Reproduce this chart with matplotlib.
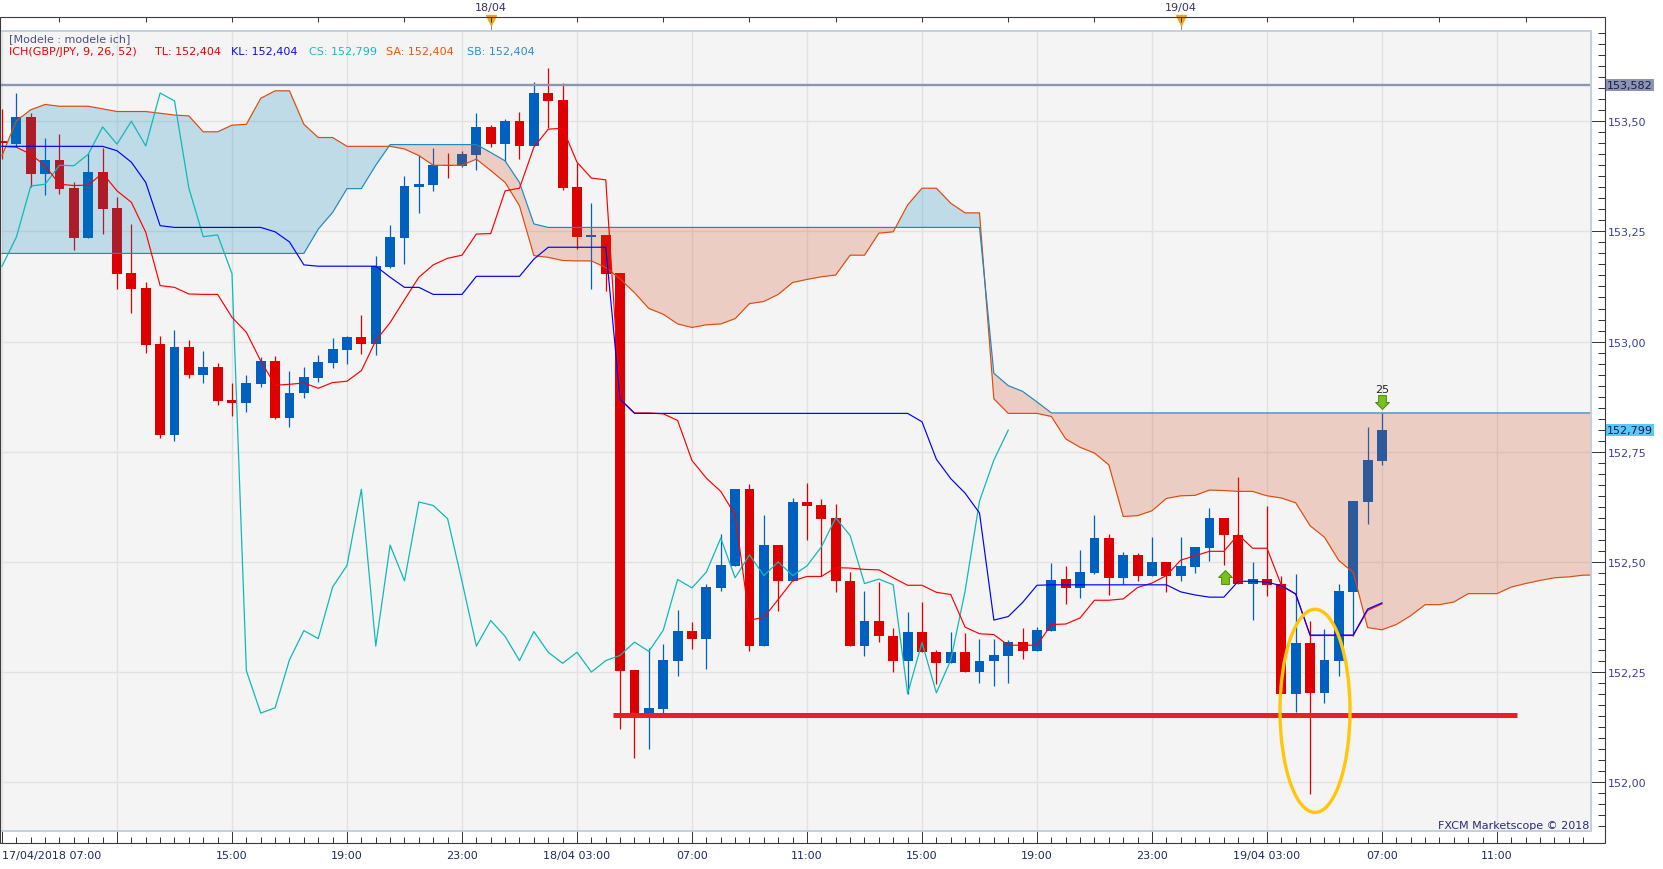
import matplotlib.pyplot as plt
import numpy as np
from matplotlib.patches import Ellipse, Rectangle
from matplotlib.path import Path
from matplotlib.ticker import MultipleLocator
from matplotlib.transforms import blended_transform_factory

plt.rcParams['font.family'] = 'DejaVu Sans'

# GBP/JPY 30 min candles, 17/04/2018 07:00 .. 19/04/2018 07:00
opens = [
    153.456, 153.449, 153.509, 153.381, 153.412, 153.348, 153.236, 153.385, 153.303, 153.155,
    153.121, 152.994, 152.789, 152.988, 152.925, 152.942, 152.868, 152.861, 152.904, 152.956,
    152.827, 152.883, 152.917, 152.952, 152.981, 153.010, 152.995, 153.170, 153.236, 153.351,
    153.356, 153.401, 153.399, 153.423, 153.487, 153.448, 153.500, 153.444, 153.564, 153.548,
    153.351, 153.238, 153.242, 153.155, 152.255, 152.157, 152.167, 152.276, 152.344, 152.326,
    152.441, 152.490, 152.665, 152.309, 152.538, 152.457, 152.636, 152.629, 152.599, 152.457,
    152.309, 152.367, 152.333, 152.276, 152.342, 152.296, 152.270, 152.295, 152.250, 152.275,
    152.286, 152.318, 152.297, 152.343, 152.461, 152.441, 152.475, 152.554, 152.464, 152.516,
    152.469, 152.500, 152.469, 152.489, 152.532, 152.600, 152.561, 152.451, 152.461, 152.450,
    152.201, 152.317, 152.203, 152.275, 152.432, 152.637, 152.730]
highs = [
    153.528, 153.564, 153.518, 153.462, 153.471, 153.361, 153.429, 153.439, 153.329, 153.267,
    153.135, 153.012, 153.026, 153.003, 152.978, 152.951, 152.907, 152.924, 152.964, 152.968,
    152.934, 152.942, 152.969, 153.009, 153.012, 153.060, 153.195, 153.265, 153.375, 153.424,
    153.439, 153.427, 153.433, 153.518, 153.492, 153.505, 153.521, 153.589, 153.621, 153.587,
    153.405, 153.314, 153.242, 153.155, 152.255, 152.304, 152.314, 152.391, 152.364, 152.449,
    152.563, 152.665, 152.676, 152.606, 152.538, 152.645, 152.679, 152.642, 152.632, 152.476,
    152.433, 152.455, 152.349, 152.386, 152.409, 152.301, 152.342, 152.338, 152.324, 152.324,
    152.322, 152.349, 152.352, 152.498, 152.490, 152.527, 152.606, 152.563, 152.522, 152.520,
    152.556, 152.500, 152.556, 152.534, 152.622, 152.600, 152.693, 152.500, 152.628, 152.469,
    152.473, 152.365, 152.348, 152.451, 152.638, 152.807, 152.838]
lows = [
    153.414, 153.441, 153.351, 153.333, 153.335, 153.208, 153.236, 153.245, 153.120, 153.065,
    152.974, 152.782, 152.775, 152.917, 152.906, 152.857, 152.832, 152.841, 152.896, 152.825,
    152.806, 152.872, 152.908, 152.941, 152.950, 152.972, 152.970, 153.166, 153.177, 153.292,
    153.342, 153.372, 153.397, 153.390, 153.442, 153.409, 153.414, 153.444, 153.484, 153.344,
    153.211, 153.119, 153.114, 152.120, 152.055, 152.076, 152.157, 152.240, 152.303, 152.256,
    152.433, 152.490, 152.297, 152.309, 152.389, 152.457, 152.550, 152.469, 152.432, 152.309,
    152.287, 152.319, 152.250, 152.201, 152.295, 152.222, 152.270, 152.250, 152.226, 152.219,
    152.226, 152.280, 152.297, 152.343, 152.405, 152.419, 152.473, 152.426, 152.451, 152.457,
    152.469, 152.432, 152.457, 152.474, 152.503, 152.494, 152.451, 152.369, 152.423, 152.201,
    152.160, 151.973, 152.180, 152.242, 152.333, 152.586, 152.720]
closes = [
    153.450, 153.509, 153.381, 153.412, 153.347, 153.236, 153.385, 153.301, 153.154, 153.120,
    152.993, 152.789, 152.988, 152.925, 152.943, 152.866, 152.861, 152.906, 152.956, 152.827,
    152.883, 152.919, 152.953, 152.983, 153.010, 152.995, 153.171, 153.237, 153.353, 153.357,
    153.400, 153.399, 153.425, 153.487, 153.448, 153.500, 153.444, 153.564, 153.546, 153.348,
    153.238, 153.242, 153.154, 152.253, 152.157, 152.169, 152.278, 152.344, 152.326, 152.443,
    152.492, 152.665, 152.309, 152.538, 152.457, 152.636, 152.628, 152.598, 152.456, 152.309,
    152.367, 152.331, 152.276, 152.342, 152.295, 152.270, 152.295, 152.250, 152.276, 152.288,
    152.318, 152.297, 152.345, 152.460, 152.441, 152.477, 152.554, 152.464, 152.516, 152.469,
    152.500, 152.469, 152.491, 152.534, 152.600, 152.560, 152.451, 152.461, 152.448, 152.201,
    152.317, 152.203, 152.277, 152.434, 152.638, 152.731, 152.799]

# Ichimoku lines as drawn on the chart
tenkan = [
    153.443, 153.441, 153.425, 153.399, 153.357, 153.354, 153.355, 153.382, 153.342, 153.316,
    153.248, 153.127, 153.123, 153.108, 153.107, 153.107, 153.055, 153.021, 152.956, 152.901,
    152.903, 152.906, 152.894, 152.907, 152.910, 152.934, 153.002, 153.043, 153.095, 153.146,
    153.174, 153.189, 153.196, 153.244, 153.245, 153.342, 153.348, 153.441, 153.482, 153.484,
    153.407, 153.371, 153.367, 152.870, 152.838, 152.838, 152.836, 152.821, 152.730, 152.690,
    152.660, 152.607, 152.368, 152.374, 152.415, 152.457, 152.467, 152.467, 152.487, 152.486,
    152.483, 152.482, 152.464, 152.447, 152.447, 152.431, 152.426, 152.352, 152.337, 152.335,
    152.311, 152.311, 152.311, 152.358, 152.359, 152.373, 152.413, 152.413, 152.416, 152.442,
    152.452, 152.469, 152.504, 152.514, 152.524, 152.524, 152.562, 152.531, 152.531, 152.447,
    152.427, 152.333, 152.333, 152.333, 152.333, 152.390, 152.405]
kijun = [
    153.443, 153.443, 153.443, 153.443, 153.443, 153.443, 153.443, 153.443, 153.433, 153.407,
    153.361, 153.263, 153.259, 153.259, 153.259, 153.259, 153.259, 153.259, 153.259, 153.249,
    153.226, 153.174, 153.171, 153.171, 153.171, 153.171, 153.171, 153.146, 153.123, 153.123,
    153.107, 153.107, 153.107, 153.148, 153.148, 153.148, 153.148, 153.187, 153.214, 153.214,
    153.214, 153.214, 153.214, 152.869, 152.837, 152.837, 152.837, 152.837, 152.837, 152.837,
    152.837, 152.837, 152.837, 152.837, 152.837, 152.837, 152.837, 152.837, 152.837, 152.837,
    152.837, 152.837, 152.837, 152.837, 152.818, 152.733, 152.689, 152.656, 152.611, 152.368,
    152.376, 152.408, 152.447, 152.448, 152.448, 152.448, 152.448, 152.448, 152.448, 152.448,
    152.448, 152.448, 152.432, 152.425, 152.420, 152.420, 152.456, 152.456, 152.454, 152.446,
    152.427, 152.334, 152.334, 152.334, 152.334, 152.393, 152.407]
senkou_a = [
    153.422, 153.501, 153.526, 153.538, 153.534, 153.534, 153.534, 153.528, 153.522, 153.522,
    153.522, 153.518, 153.514, 153.512, 153.476, 153.476, 153.491, 153.493, 153.552, 153.569,
    153.569, 153.493, 153.463, 153.463, 153.443, 153.443, 153.443, 153.443, 153.437, 153.422,
    153.400, 153.400, 153.400, 153.414, 153.388, 153.361, 153.308, 153.195, 153.191, 153.184,
    153.183, 153.183, 153.168, 153.142, 153.111, 153.075, 153.062, 153.040, 153.032, 153.038,
    153.040, 153.052, 153.086, 153.091, 153.107, 153.134, 153.141, 153.147, 153.151, 153.196,
    153.196, 153.246, 153.249, 153.310, 153.348, 153.348, 153.314, 153.292, 153.292, 152.870,
    152.837, 152.837, 152.837, 152.830, 152.779, 152.760, 152.747, 152.720, 152.603, 152.605,
    152.616, 152.644, 152.650, 152.651, 152.663, 152.662, 152.660, 152.660, 152.650, 152.645,
    152.634, 152.582, 152.556, 152.503, 152.476, 152.351, 152.346, 152.358, 152.378, 152.403,
    152.403, 152.409, 152.428, 152.428, 152.428, 152.443, 152.451, 152.458, 152.464, 152.466,
    152.470, 152.470]
senkou_b = [
    153.200, 153.200, 153.200, 153.200, 153.200, 153.200, 153.200, 153.200, 153.200, 153.200,
    153.200, 153.200, 153.200, 153.200, 153.200, 153.200, 153.200, 153.200, 153.200, 153.200,
    153.200, 153.200, 153.255, 153.293, 153.347, 153.347, 153.400, 153.447, 153.447, 153.447,
    153.447, 153.447, 153.447, 153.447, 153.429, 153.410, 153.361, 153.267, 153.259, 153.259,
    153.259, 153.259, 153.259, 153.259, 153.259, 153.259, 153.259, 153.259, 153.259, 153.259,
    153.259, 153.259, 153.259, 153.259, 153.259, 153.259, 153.259, 153.259, 153.259, 153.259,
    153.259, 153.259, 153.259, 153.259, 153.259, 153.259, 153.259, 153.259, 153.259, 152.928,
    152.900, 152.887, 152.863, 152.838, 152.838, 152.838, 152.838, 152.838, 152.838, 152.838,
    152.838, 152.838, 152.838, 152.838, 152.838, 152.838, 152.838, 152.838, 152.838, 152.838,
    152.838, 152.838, 152.838, 152.838, 152.838, 152.838, 152.838, 152.838, 152.838, 152.838,
    152.838, 152.838, 152.838, 152.838, 152.838, 152.838, 152.838, 152.838, 152.838, 152.838,
    152.838, 152.838]
chikou_shift = 26

time_labels = ["17/04/2018 07:00", "", "15:00", "19:00", "23:00", "18/04 03:00", "07:00",
               "11:00", "15:00", "19:00", "23:00", "19/04 03:00", "07:00", "11:00"]
price_ticks = [152.00, 152.25, 152.50, 152.75, 153.00, 153.25, 153.50]
day_marks = [34, 82]
day_labels = ["18/04", "19/04"]

high_level = 153.582
last_cs = 152.799
support_level = 152.153
support_span = (42.5, 105.4)

BLUE = '#0060c0'
RED = '#dd0000'

fig = plt.figure(figsize=(16.63, 8.70), dpi=100)
ax = fig.add_axes([0, 38 / 870, 1591 / 1663, 800 / 870])
ax.set_facecolor('#f4f4f4')
ax.set_xlim(-0.139, 110.54)
ax.set_ylim(151.8894, 153.7047)

ax_top = ax.twiny()
ax_top.set_xlim(ax.get_xlim())

o = np.array(opens)
h = np.array(highs)
lo = np.array(lows)
c = np.array(closes)
x = np.arange(len(c))
colors = np.where(c >= o, BLUE, RED)

ax.vlines(x, lo, h, colors=colors, lw=0.9, zorder=2)
ax.bar(x, np.maximum(np.abs(c - o), 0.0022), bottom=np.minimum(o, c), width=0.68,
       color=colors, linewidth=0, zorder=2.1)

# cloud
sa = np.array(senkou_a)
sb = np.array(senkou_b)
cx = np.arange(len(sa))
ax.fill_between(cx, sa, sb, where=sa >= sb, interpolate=True, color='#0083bc',
                alpha=0.22, lw=0, zorder=3)
ax.fill_between(cx, sa, sb, where=sa < sb, interpolate=True, color='#d2461a',
                alpha=0.22, lw=0, zorder=3)
ax.plot(cx, sa, color='#dd4a0c', lw=0.85, zorder=4)
ax.plot(cx, sb, color='#1e88c0', lw=0.85, zorder=4)

ax.plot(x, tenkan, color='#ff0000', lw=0.85, zorder=4.2)
ax.plot(x, kijun, color='#0000ff', lw=0.85, zorder=4.2)
ax.plot(x[:-chikou_shift], c[chikou_shift:], color='#12b8b8', lw=0.9, zorder=4.1)

ax.axhline(high_level, color='#8d95b5', lw=1.7, zorder=4.5)
ax.hlines(support_level, *support_span, color='#ee1d25', lw=3.6, zorder=5)
ax.add_patch(Ellipse((91.34, 152.162), 4.87, 0.461, fill=False, ec='#ffc60a', lw=2.4, zorder=6))

# green signal arrows
arrow_up = Path([(-0.28, -0.5), (0.28, -0.5), (0.28, 0.0), (0.5, 0.0), (0.0, 0.5),
                 (-0.5, 0.0), (-0.28, 0.0), (-0.28, -0.5)], closed=True)
arrow_dn = Path([(px, -py) for px, py in arrow_up.vertices], closed=True)
ax.plot([85.06], [152.466], marker=arrow_up, ms=10, mfc='#78c01c', mec='#4a8c10',
        mew=0.7, ls='none', zorder=7)
ax.plot([96], [152.863], marker=arrow_dn, ms=10, mfc='#78c01c', mec='#4a8c10',
        mew=0.7, ls='none', zorder=7)
ax.text(96, 152.893, "25", ha='center', va='center', fontsize=8, color='#222222', zorder=7)

# axes, ticks, grid
ax.set_axisbelow(True)
ax.grid(True, which='major', color='#e2e2e2', lw=1.0)
for s in ax.spines.values():
    s.set_visible(False)
for s in ax_top.spines.values():
    s.set_visible(False)
ax.spines['bottom'].set_position(('outward', 8.64))
ax.spines['right'].set_position(('outward', 10.08))
ax_top.spines['top'].set_position(('outward', 10.08))

ax.set_xticks(np.arange(0, 105, 8))
ax.set_xticklabels(time_labels)
ax.get_xticklabels()[0].set_ha('left')
ax.set_xticks(np.arange(0, 111), minor=True)
ax.tick_params(axis='x', which='major', direction='in', length=8.6, width=0.7, color='#333333',
               pad=5, labelsize=8, labelcolor='#1e2a5e')
ax.tick_params(axis='x', which='minor', direction='in', length=4, width=0.7, color='#333333')

ax.yaxis.tick_right()
ax.set_yticks(price_ticks)
ax.set_yticklabels([f"{p:.2f}".replace('.', ',') for p in price_ticks])
ax.yaxis.set_minor_locator(MultipleLocator(0.025))
ax.tick_params(axis='y', which='major', direction='in', length=10, width=0.7, color='#333333',
               pad=2, labelsize=8, labelcolor='#3d3d9e')
ax.tick_params(axis='y', which='minor', direction='in', length=5, width=0.7, color='#333333')

ax_top.set_xticks(np.arange(4, 111, 6))
ax_top.tick_params(axis='x', direction='in', length=3.6, width=0.7, color='#333333',
                   labeltop=False, top=True, bottom=False)

edge = blended_transform_factory(ax.transAxes, ax.transData)
ax.text(1.0101, high_level, f"{high_level:.3f}".replace('.', ','), transform=edge, ha='left',
        va='center', fontsize=8, color='#1a1a40', clip_on=False,
        bbox=dict(boxstyle='square,pad=0.12', fc='#8c94b4', ec='none'))
ax.text(1.0101, last_cs, f"{last_cs:.3f}".replace('.', ','), transform=edge, ha='left',
        va='center', fontsize=8, color='#1a1a50', clip_on=False,
        bbox=dict(boxstyle='square,pad=0.12', fc='#5cc8f6', ec='none'))

top = blended_transform_factory(ax.transData, ax.transAxes)
ax.vlines(day_marks, 1.0, 1.0175, transform=top, colors='#8a8a8a', lw=0.7, clip_on=False)
ax.plot(day_marks, [1.0135] * len(day_marks), transform=top, marker='v', ms=6.5,
        color='#f7a21b', ls='none', clip_on=False)
for d, lab in zip(day_marks, day_labels):
    ax.text(d, 1.03, lab, transform=top, ha='center', va='center', fontsize=8,
            color='#33335f', clip_on=False)

# indicator header
ax.text(9 / 1591, 0.99125, "[Modele : modele ich]", transform=ax.transAxes, fontsize=8,
        color='#50507a', va='center')
header = [(9, "ICH(GBP/JPY, 9, 26, 52)", '#ee0000'), (155, "TL: 152,404", '#ee0000'),
          (231, "KL: 152,404", '#1010e0'), (309, "CS: 152,799", '#1ab8c0'),
          (386, "SA: 152,404", '#e05a10'), (467, "SB: 152,404", '#2a8fd0')]
for px, s, col in header:
    ax.text(px / 1591, 0.9746, s, transform=ax.transAxes, fontsize=8, color=col, va='center')

ax.text(0.9987, 0.0075, "FXCM Marketscope \u00a9 2018", transform=ax.transAxes, fontsize=8,
        color='#2a2a70', ha='right', va='center')

ax.add_patch(Rectangle((0, 0), 1, 1, transform=ax.transAxes, fill=False, ec='#c5cfdb',
                       lw=1.4, zorder=10, clip_on=False))
fig.add_artist(Rectangle((0, 26 / 870), 1605 / 1663, 826 / 870, transform=fig.transFigure,
                         fill=False, ec='#3a3a3a', lw=0.8))

fig.savefig('out.png', dpi=100)
